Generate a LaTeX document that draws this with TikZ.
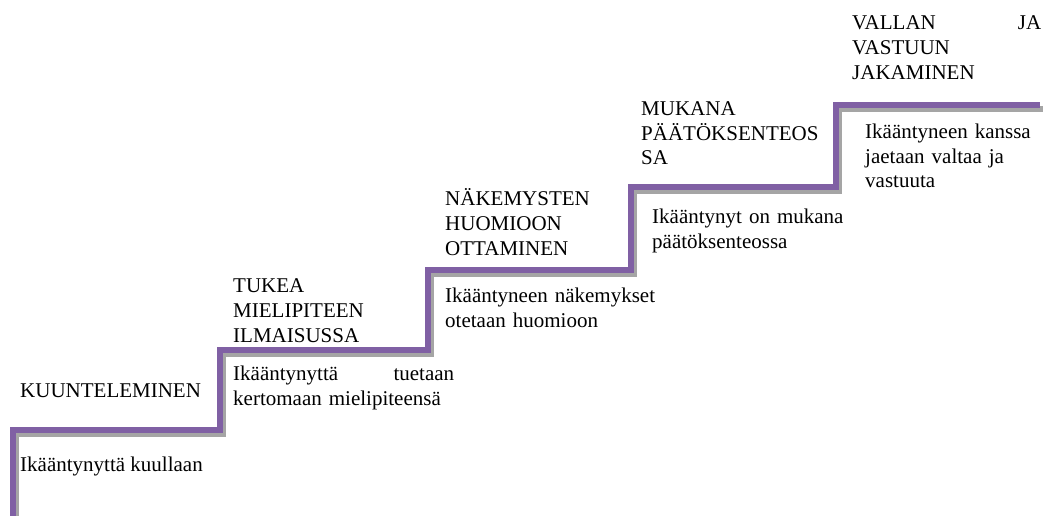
\documentclass[tikz,border=0pt]{standalone}
\usepackage{fontspec}
\setmainfont{Liberation Serif}
\definecolor{stairpurple}{RGB}{128,96,164}
\definecolor{stairshadow}{RGB}{165,165,165}
\tikzset{
  stair/.style={line width=6pt, stairpurple, line join=miter},
  stairshade/.style={line width=6pt, stairshadow, line join=miter},
  lbl/.style={anchor=base west, inner sep=0pt, align=left,
    font=\fontsize{21}{25}\selectfont, text=black}
}
\begin{document}
\begin{tikzpicture}[x=1pt,y=-1pt]
\useasboundingbox (0,0) rectangle (1043,516);
\coordinate (p0) at (13,516);
\coordinate (p1) at (13,430);
\coordinate (p2) at (220,430);
\coordinate (p3) at (220,350);
\coordinate (p4) at (428,350);
\coordinate (p5) at (428,270);
\coordinate (p6) at (631,270);
\coordinate (p7) at (631,187);
\coordinate (p8) at (836,187);
\coordinate (p9) at (836,105);
\coordinate (p10) at (1040,105);
\begin{scope}[transform canvas={shift={(3pt,-4pt)}}]
\draw[stairshade] (p0) -- (p1) -- (p2) -- (p3) -- (p4) -- (p5) -- (p6) -- (p7) -- (p8) -- (p9) -- (p10);
\end{scope}
\draw[stair] (p0) -- (p1) -- (p2) -- (p3) -- (p4) -- (p5) -- (p6) -- (p7) -- (p8) -- (p9) -- (p10);

\node[lbl] (t1) at (20,397) {KUUNTELEMINEN};
\node[lbl] (d1) at (20,471) {Ikääntynyttä kuullaan};

\node[lbl, text width=200pt] (t2) at (233,292) {TUKEA\\MIELIPITEEN\\ILMAISUSSA};
\node[lbl, text width=221pt] (d2) at (233,380) {Ikääntynyttä\hfill tuetaan\\kertomaan mielipiteensä};

\node[lbl, text width=180pt] (t3) at (445,205) {NÄKEMYSTEN\\HUOMIOON\\OTTAMINEN};
\node[lbl, text width=240pt] (d3) at (445,302) {Ikääntyneen näkemykset\\otetaan huomioon};

\node[lbl, text width=190pt] (t4) at (641,115) {MUKANA\\PÄÄTÖKSENTEOS\\SA};
\node[lbl, text width=240pt] (d4) at (652,223) {Ikääntynyt on mukana\\päätöksenteossa};

\node[lbl, text width=189pt] (t5) at (852,30) {VALLAN\hfill JA\\VASTUUN\\JAKAMINEN};
\node[lbl, text width=175pt] (d5) at (865,138) {Ikääntyneen kanssa\\jaetaan valtaa ja\\vastuuta};
\end{tikzpicture}
\end{document}
